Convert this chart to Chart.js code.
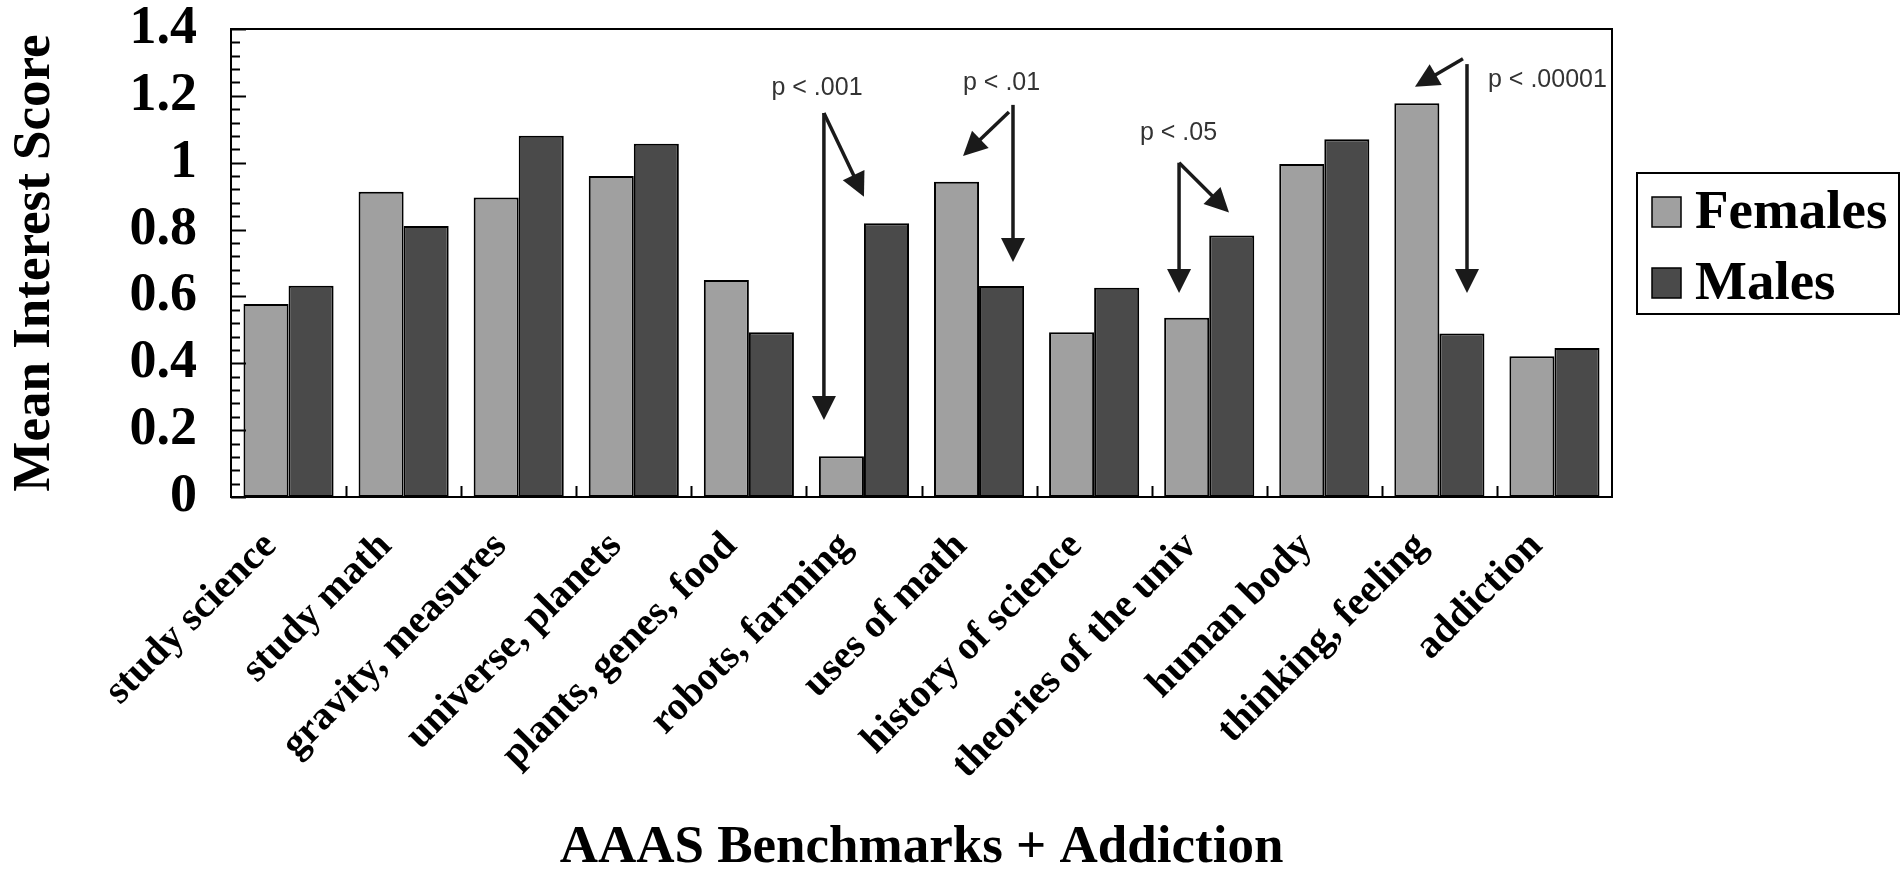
<!DOCTYPE html>
<html>
<head>
<meta charset="utf-8">
<title>Mean Interest Score - AAAS Benchmarks + Addiction</title>
<script src="https://cdn.jsdelivr.net/npm/chart.js@4.4.1/dist/chart.umd.min.js"></script>
<style>
  html, body { margin: 0; padding: 0; background: #fff; }
  #wrap { width: 1901px; height: 872px; position: relative; }
</style>
</head>
<body>
<div id="wrap"><canvas id="chart"></canvas></div>
<script>
// datos
const categories = [
  'study science', 'study math', 'gravity, measures', 'universe, planets',
  'plants, genes, food', 'robots, farming', 'uses of math', 'history of science',
  'theories of the univ', 'human body', 'thinking, feeling', 'addiction'
];
const females = [0.577, 0.913, 0.896, 0.960, 0.649, 0.122, 0.943, 0.493, 0.536, 0.996, 1.178, 0.421];
const males   = [0.632, 0.811, 1.081, 1.057, 0.493, 0.819, 0.631, 0.626, 0.782, 1.070, 0.489, 0.446];
const seriesNames = ['Females', 'Males'];
const yTickValues = [0, 0.2, 0.4, 0.6, 0.8, 1, 1.2, 1.4];
const yTickLabels = ['0', '0.2', '0.4', '0.6', '0.8', '1', '1.2', '1.4'];
const yMinorStep = 0.04;

// anotaciones de significancia: categoria, texto y flechas (offset en categorias, valor)
const pCats = [5, 6, 8, 10];
const pTexts = ['p < .001', 'p < .01', 'p < .05', 'p < .00001'];
const pTextPos = [[-0.408, 1.203], [0.196, 1.218], [-0.267, 1.068], [0.939, 1.227]];
const pArrows = [
  [[-0.348, 1.149, -0.348, 0.230], [-0.348, 1.149, 0.0, 0.898]],
  [[0.295, 1.173, 0.295, 0.703], [0.26, 1.152, -0.139, 1.020]],
  [[-0.262, 1.0, -0.262, 0.610], [-0.262, 1.0, 0.172, 0.851]],
  [[0.24, 1.295, 0.24, 0.610], [0.205, 1.311, -0.212, 1.227]]
];

const SERIF = '"Liberation Serif", "Times New Roman", serif';
const SANS = '"Liberation Sans", Arial, sans-serif';

function drawArrow(ctx, x0, y0, x1, y1) {
  const head = 24, half = 12;
  const dx = x1 - x0, dy = y1 - y0;
  const len = Math.hypot(dx, dy);
  const ux = dx / len, uy = dy / len;
  const bx = x1 - ux * head, by = y1 - uy * head;
  ctx.beginPath();
  ctx.moveTo(x0, y0);
  ctx.lineTo(bx + ux * 2, by + uy * 2);
  ctx.stroke();
  ctx.beginPath();
  ctx.moveTo(x1, y1);
  ctx.lineTo(bx - uy * half, by + ux * half);
  ctx.lineTo(bx + uy * half, by - ux * half);
  ctx.closePath();
  ctx.fill();
}

const decoPlugin = {
  id: 'deco',
  afterDatasetsDraw(chart) {
    const { ctx, chartArea: a, scales: { x, y } } = chart;
    const cw = (a.right - a.left) / categories.length;
    ctx.save();

    // marco del area
    ctx.strokeStyle = '#000';
    ctx.lineWidth = 2;
    ctx.strokeRect(a.left, a.top, a.right - a.left, a.bottom - a.top);

    // ticks del eje y (mayores y menores, hacia adentro)
    const nMinor = Math.round(yTickValues[yTickValues.length - 1] / yMinorStep);
    ctx.beginPath();
    for (let k = 0; k <= nMinor; k++) {
      const py = Math.round(y.getPixelForValue(k * yMinorStep)) + 0.5;
      const len = k % 5 === 0 ? 15 : 9;
      ctx.moveTo(a.left, py);
      ctx.lineTo(a.left + len, py);
    }
    // ticks del eje x entre categorias
    for (let i = 1; i < categories.length; i++) {
      const px = Math.round((x.getPixelForValue(i - 1) + x.getPixelForValue(i)) / 2) + 0.5;
      ctx.moveTo(px, a.bottom);
      ctx.lineTo(px, a.bottom - 11);
    }
    ctx.stroke();

    // anotaciones p
    ctx.strokeStyle = '#1a1a1a';
    ctx.fillStyle = '#1a1a1a';
    ctx.lineWidth = 3.5;
    pCats.forEach((c, i) => {
      const cx = x.getPixelForValue(c);
      pArrows[i].forEach(([ox0, v0, ox1, v1]) => {
        drawArrow(ctx, cx + ox0 * cw, y.getPixelForValue(v0), cx + ox1 * cw, y.getPixelForValue(v1));
      });
    });
    ctx.fillStyle = '#333';
    ctx.font = '25px ' + SANS;
    ctx.textAlign = 'center';
    ctx.textBaseline = 'alphabetic';
    pCats.forEach((c, i) => {
      const cx = x.getPixelForValue(c);
      ctx.fillText(pTexts[i], cx + pTextPos[i][0] * cw, y.getPixelForValue(pTextPos[i][1]));
    });

    // leyenda
    const lx = a.right + 25, ly = 173, lw = 262, lh = 141;
    ctx.lineWidth = 2;
    ctx.strokeStyle = '#000';
    ctx.strokeRect(lx, ly, lw, lh);
    ctx.font = 'bold 55px ' + SERIF;
    ctx.textAlign = 'left';
    ctx.textBaseline = 'alphabetic';
    chart.data.datasets.forEach((ds, i) => {
      const sy = ly + 24 + i * 71;
      ctx.fillStyle = ds.backgroundColor;
      ctx.fillRect(lx + 15, sy, 29, 30);
      ctx.lineWidth = 1.5;
      ctx.strokeRect(lx + 15, sy, 29, 30);
      ctx.fillStyle = '#000';
      ctx.fillText(ds.label, lx + 58, sy + 31);
    });
    ctx.restore();
  }
};

new Chart(document.getElementById('chart'), {
  type: 'bar',
  data: {
    labels: categories,
    datasets: [
      { label: seriesNames[0], data: females, backgroundColor: '#a0a0a0', borderColor: '#000', borderWidth: 2, borderSkipped: false },
      { label: seriesNames[1], data: males, backgroundColor: '#4a4a4a', borderColor: '#000', borderWidth: 2, borderSkipped: false }
    ]
  },
  options: {
    responsive: true,
    maintainAspectRatio: false,
    devicePixelRatio: 1,
    animation: false,
    datasets: { bar: { categoryPercentage: 0.783, barPercentage: 1.0 } },
    layout: { padding: { top: 29, right: 289, left: 0, bottom: 0 } },
    plugins: {
      legend: { display: false },
      tooltip: { enabled: false }
    },
    scales: {
      x: {
        grid: { display: false, drawTicks: false },
        border: { display: false },
        ticks: {
          autoSkip: false,
          maxRotation: 45,
          minRotation: 45,
          padding: 26,
          labelOffset: -18,
          color: '#000',
          font: { family: SERIF, size: 40, weight: 'bold', lineHeight: 1.2 }
        },
        title: {
          display: true,
          text: 'AAAS Benchmarks + Addiction',
          color: '#000',
          padding: 0,
          font: { family: SERIF, size: 53, weight: 'bold', lineHeight: 0.9 }
        },
        afterFit: (s) => { s.height = 375; s.paddingLeft = 0; s.paddingRight = 0; }
      },
      y: {
        min: 0,
        max: 1.4,
        grid: { display: false, drawTicks: false },
        border: { display: false },
        afterBuildTicks: (s) => { s.ticks = yTickValues.map(v => ({ value: v })); },
        ticks: {
          padding: 34,
          color: '#000',
          font: { family: SERIF, size: 54, weight: 'bold', lineHeight: 1.0 },
          callback: (v, i) => yTickLabels[i]
        },
        title: {
          display: true,
          text: 'Mean Interest Score',
          color: '#000',
          padding: { top: 9, bottom: 0 },
          font: { family: SERIF, size: 53, weight: 'bold', lineHeight: 1.0 }
        },
        afterFit: (s) => { s.width = 231; s.paddingTop = 0; s.paddingBottom = 0; }
      }
    }
  },
  plugins: [decoPlugin]
});
</script>
</body>
</html>
